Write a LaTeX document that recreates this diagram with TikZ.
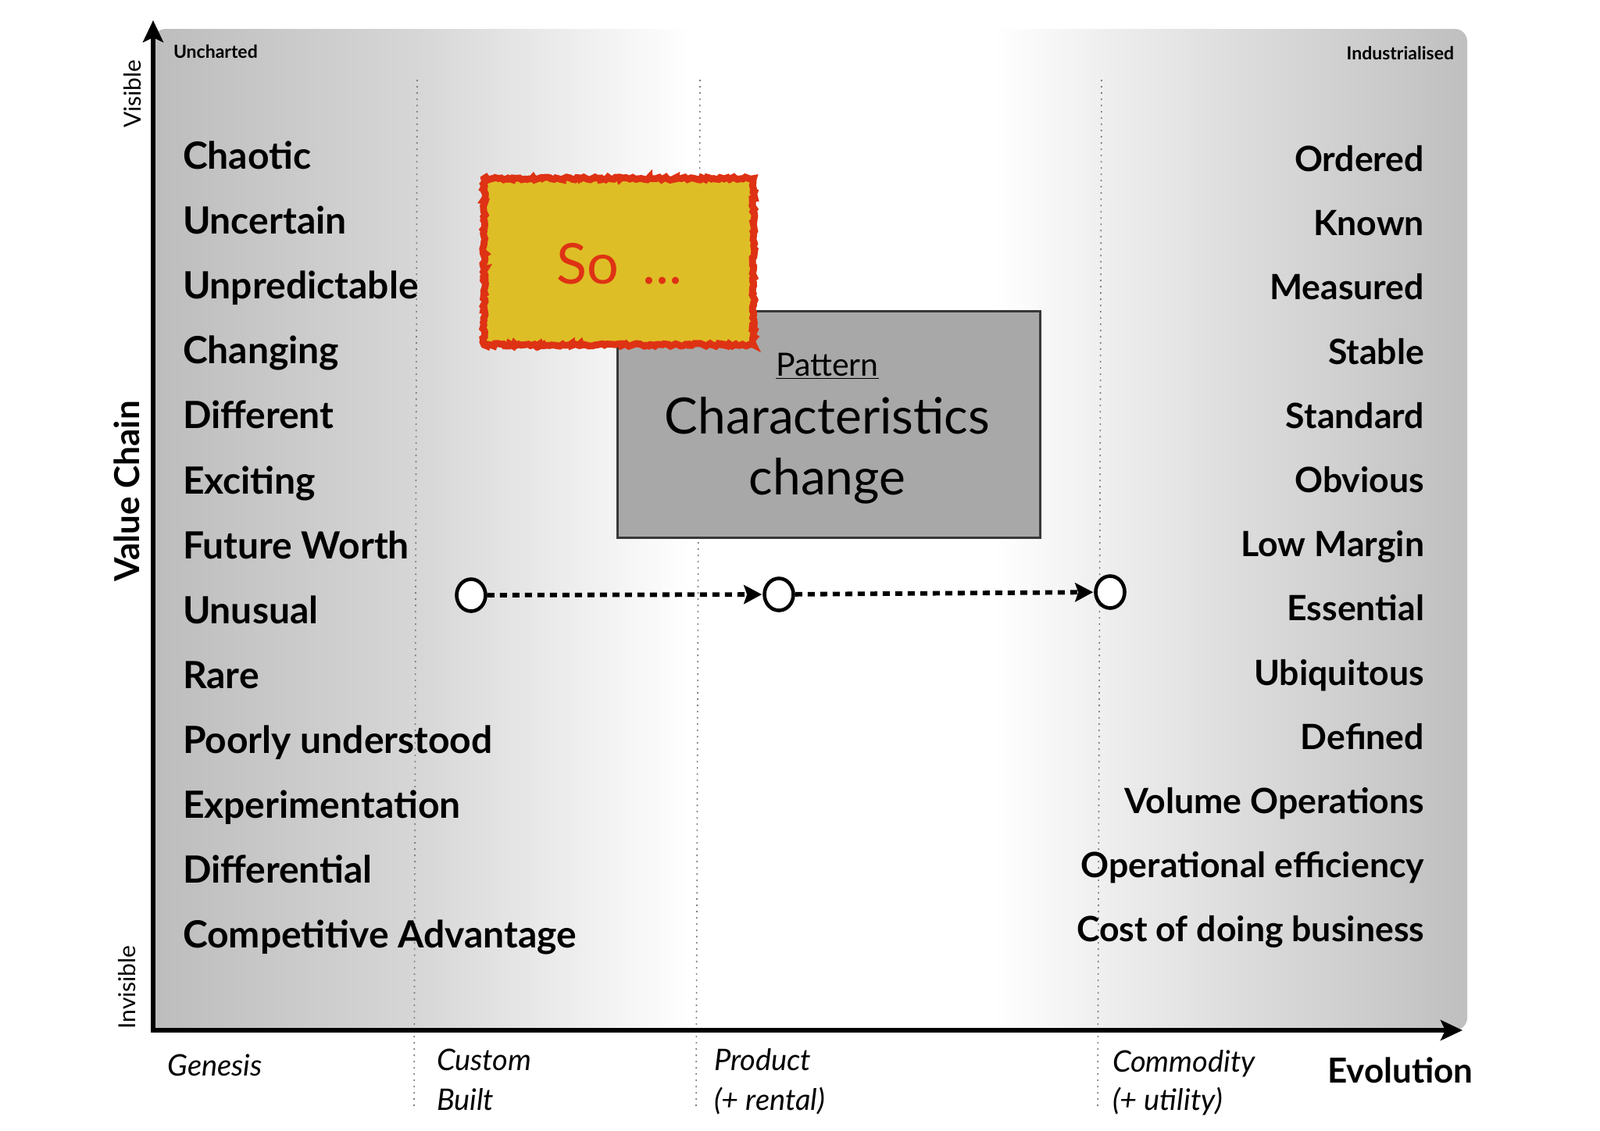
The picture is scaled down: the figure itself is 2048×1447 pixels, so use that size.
\documentclass[tikz,border=0pt]{standalone}
\usepackage{fontspec}
\setmainfont{Lato}
\usetikzlibrary{arrows.meta,decorations.pathmorphing,shadows,shapes.geometric}
\definecolor{boxgray}{gray}{0.66}
\definecolor{boxedge}{gray}{0.22}
\definecolor{soyellow}{RGB}{222,190,38}
\definecolor{sored}{RGB}{222,50,20}
\definecolor{dotgray}{gray}{0.5}
\pgfdeclarehorizontalshading{bgshade}{100bp}{color(0bp)=(black!26); color(25bp)=(black!26); color(35bp)=(black!16); color(45.5bp)=(white); color(57bp)=(white); color(61.5bp)=(black!7); color(75bp)=(black!25); color(100bp)=(black!25)}
\tikzset{
  txt/.style={inner sep=0pt, outer sep=0pt},
  lefttxt/.style={txt, anchor=base west, font=\bfseries\fontsize{24}{28}\selectfont},
  righttxt/.style={txt, anchor=base east, font=\bfseries\fontsize{22.3}{26}\selectfont},
  cornertxt/.style={txt, font=\bfseries\fontsize{11.5}{14}\selectfont},
  sidetxt/.style={rotate=90, font=\fontsize{15}{18}\selectfont},
  stagetxt/.style={txt, anchor=base west, font=\itshape\fontsize{19}{22}\selectfont},
  axisline/.style={line width=2.8pt, -{Stealth[length=14pt,width=13pt,inset=3pt]}},
  stageline/.style={dotgray, line width=0.8pt, dash pattern=on 1pt off 3pt},
  pointnode/.style={ellipse, draw, line width=2.3pt, fill=white, minimum width=18.5pt, minimum height=20.5pt, inner sep=0pt},
  movearrow/.style={line width=2.9pt, dash pattern=on 4.5pt off 3.5pt, -{Stealth[length=11.5pt,width=12pt,inset=2pt]}, shorten >=0.5pt},
}
\begin{document}
\begin{tikzpicture}[x=0.5pt,y=-0.5pt]
\useasboundingbox (0,0) rectangle (2048,1447);
\fill[white] (0,0) rectangle (2048,1447);
% background
\shade[shading=bgshade] (196,1319) [rounded corners=8pt] -- (196,37) -- (1878,37) -- (1878,1319) [sharp corners] -- cycle;
% stage separators
\coordinate (d1t) at (534,102); \coordinate (d1b) at (530,1417);
\coordinate (d2t) at (896,102); \coordinate (d2b) at (891,1417);
\coordinate (d3t) at (1410,102); \coordinate (d3b) at (1405,1417);
\draw[stageline] (d1t) -- (d1b);
\draw[stageline] (d2t) -- (d2b);
\draw[stageline] (d3t) -- (d3b);
% axes
\coordinate (origin) at (196,1319);
\coordinate (ytop) at (196,26);
\coordinate (xright) at (1872,1319);
\draw[axisline] (origin) -- (ytop);
\draw[axisline] ([xshift=-1.4pt]origin) -- (xright);
% corner labels
\node[cornertxt, anchor=base west] (unch) at (222,74) {Uncharted};
\node[cornertxt, anchor=base east] (indu) at (1861,76) {Industrialised};
% axis side labels
\node[sidetxt] (vis) at (170,120) {Visible};
\node[sidetxt] (invis) at (163,1264) {Invisible};
\node[rotate=90, font=\bfseries\fontsize{22}{26}\selectfont] (vchain) at (162,629) {Value Chain};
% left column
\foreach \t [count=\i from 0] in {Chaotic,Uncertain,Unpredictable,Changing,Different,Exciting,Future Worth,Unusual,Rare,Poorly understood,Experimentation,Differential,Competitive Advantage}
  \node[lefttxt] (l\i) at (234,216.8+83.04*\i) {\t};
% right column
\foreach \t [count=\i from 0] in {Ordered,Known,Measured,Stable,Standard,Obvious,Low Margin,Essential,Ubiquitous,Defined,Volume Operations,Operational efficiency,Cost of doing business}
  \node[righttxt] (r\i) at (1823,219.4+82.2*\i) {\t};
% stage labels
\node[stagetxt] (gen) at (214.5,1377) {Genesis};
\node[stagetxt] (cus) at (559,1370) {Custom};
\node[stagetxt] (bui) at (559,1421) {Built};
\node[stagetxt] (pro) at (914,1370) {Product};
\node[stagetxt] (ren) at (914,1421) {(+ rental)};
\node[stagetxt] (com) at (1424,1372) {Commodity};
\node[stagetxt] (uti) at (1424,1421) {(+ utility)};
\node[txt, anchor=base west, font=\bfseries\fontsize{22}{26}\selectfont] (evo) at (1699,1386) {Evolution};
% pattern box
\node[draw=boxedge, fill=boxgray, line width=1.5pt, minimum width=270.5pt, minimum height=145pt] (pbox) at (1060.5,543) {};
\node[anchor=base, font=\fontsize{20.5}{24}\selectfont] (pat) at (1059,481) {\underline{Pattern}};
\node[anchor=base, font=\fontsize{32}{38}\selectfont] (chr) at (1059,555) {Characteristics};
\node[anchor=base, font=\fontsize{32}{38}\selectfont] (chg) at (1059,633) {change};
% so box
\node[fill=soyellow, minimum width=172pt, minimum height=106pt, drop shadow={shadow xshift=2pt, shadow yshift=-2pt, opacity=0.25}] (sobox) at (792,335) {};
\draw[sored, line width=4.4pt, decorate, decoration={random steps, segment length=1.5pt, amplitude=0.9pt}] (sobox.south west) rectangle (sobox.north east);
\node[anchor=base, text=sored, font=\fontsize{36}{42}\selectfont] (so) at (793,363) {So \,...};
% movement
\node[pointnode] (c1) at (603,762) {};
\node[pointnode] (c2) at (997,761) {};
\node[pointnode] (c3) at (1421,758) {};
\draw[movearrow] (c1) -- (c2);
\draw[movearrow] (c2) -- (c3);
\end{tikzpicture}
\end{document}
